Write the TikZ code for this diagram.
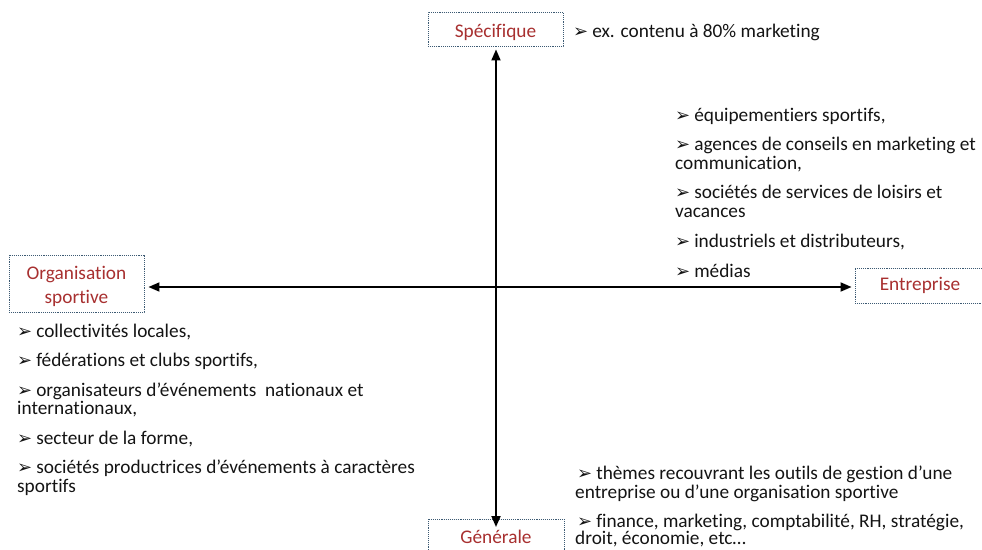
\documentclass[tikz,border=0pt]{standalone}
\usepackage{fontspec}
\setmainfont{Carlito}[Ligatures={NoCommon}]
\newfontfamily\dejavu{DejaVu Sans}
\usetikzlibrary{arrows.meta,calc}
\definecolor{labelred}{RGB}{168,48,48}
\definecolor{textblack}{RGB}{20,20,20}
\definecolor{boxblue}{RGB}{60,90,115}
\newcommand{\bul}{{\dejavu\fontsize{18}{18}\selectfont ➢}\hspace{4pt}}
\tikzset{
  txt/.style={anchor=base west, inner sep=0pt, text=textblack, font=\fontsize{19.3}{19}\selectfont},
  lbl/.style={anchor=base, inner sep=0pt, text=labelred, font=\fontsize{19.3}{19}\selectfont},
  axisbox/.style={draw=boxblue, densely dotted, line width=0.9pt, inner sep=0pt, fill=white},
  axis/.style={line width=1.8pt, draw=black, {Triangle[length=11pt,width=9pt]}-{Triangle[length=11pt,width=9pt]}}
}
\begin{document}
\begin{tikzpicture}[x=1pt,y=-1pt]
\useasboundingbox (0,0) rectangle (982,549);
\clip (0,0) rectangle (982,549);
% boxes
\node[axisbox, minimum width=135pt, minimum height=34pt] (spec) at (495.5,29) {};
\node[axisbox, minimum width=135pt, minimum height=57pt] (orga) at (76.5,283.5) {};
\node[axisbox, minimum width=135pt, minimum height=35pt] (entr) at (922.5,285.5) {};
\node[axisbox, minimum width=136pt, minimum height=34pt] (gene) at (496,536) {};
% labels
\node[lbl] (spectxt) at (495.5,37) {Spécifique};
\node[lbl] (orgatxtA) at (76.5,279) {Organisation};
\node[lbl] (orgatxtB) at (76.5,303) {sportive};
\node[lbl] (entrtxt) at (920,290) {Entreprise};
\node[lbl] (genetxt) at (496,543) {Générale};
% axes
\coordinate (vt) at ($(spec.south)+(0.5,3)$);
\coordinate (vb) at (496,527);
\coordinate (hl) at ($(orga.east)+(4,3.5)$);
\coordinate (hr) at ($(entr.west)+(-3,1.5)$);
\draw[axis] (vt) -- (vb);
\draw[axis] (hl) -- (hr);
% top text
\node[txt] (t0) at (573,37) {\bul ex. contenu à 80\% marketing};
% right list
\node[txt] (r1) at (675,121) {\bul équipementiers sportifs,};
\node[txt] (r2) at (675,150) {\bul agences de conseils en marketing et};
\node[txt] (r3) at (675,169) {communication,};
\node[txt] (r4) at (675,198.5) {\bul sociétés de services de loisirs et};
\node[txt] (r5) at (675,217.5) {vacances};
\node[txt] (r6) at (675,247.5) {\bul industriels et distributeurs,};
\node[txt] (r7) at (675,277) {\bul médias};
% left list
\node[txt] (l1) at (17,337) {\bul collectivités locales,};
\node[txt] (l2) at (17,366.5) {\bul fédérations et clubs sportifs,};
\node[txt] (l3) at (17,396) {\bul organisateurs d’événements \ nationaux et};
\node[txt] (l4) at (17,414.5) {internationaux,};
\node[txt] (l5) at (17,444) {\bul secteur de la forme,};
\node[txt] (l6) at (17,473.5) {\bul sociétés productrices d’événements à caractères};
\node[txt] (l7) at (17,492) {sportifs};
% bottom right
\node[txt] (b1) at (577,479) {\bul thèmes recouvrant les outils de gestion d’une};
\node[txt] (b2) at (575,498) {entreprise ou d’une organisation sportive};
\node[txt] (b3) at (577,527) {\bul finance, marketing, comptabilité, RH, stratégie,};
\node[txt] (b4) at (575,544.5) {droit, économie, etc…};
\end{tikzpicture}
\end{document}
